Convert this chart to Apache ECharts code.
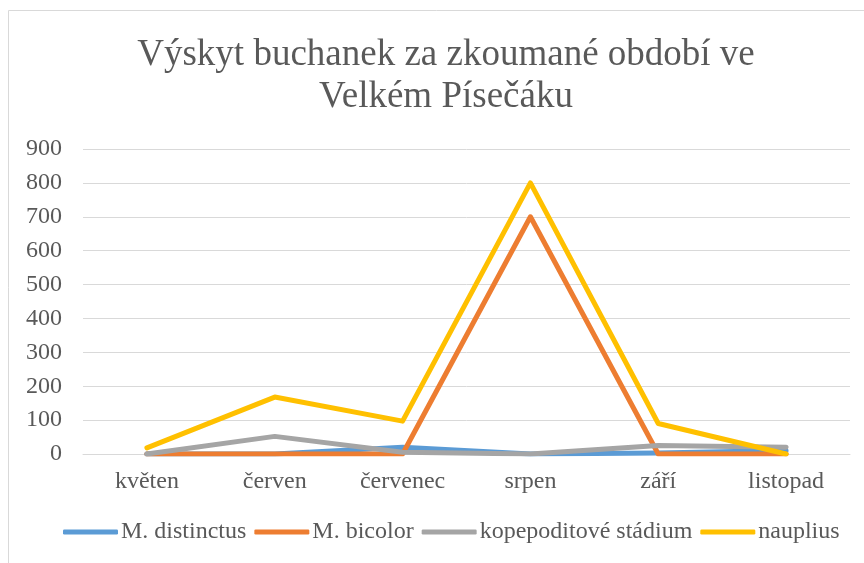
<!DOCTYPE html>
<html>
<head>
<meta charset="utf-8">
<script src="https://cdn.jsdelivr.net/npm/echarts@6/dist/echarts.min.js"></script>
<style>html,body{margin:0;padding:0;background:#fff}#c{width:864px;height:563px}</style>
</head>
<body>
<div id="c"></div>
<script>
var categories = ['květen', 'červen', 'červenec', 'srpen', 'září', 'listopad'];
var distinctus = [0, 0, 20, 0, 3, 10];
var bicolor = [0, 0, 0, 700, 0, 0];
var kopepodit = [0, 52, 5, 0, 25, 20];
var nauplius = [18, 168, 97, 800, 90, 0];
var yTicks = [0, 100, 200, 300, 400, 500, 600, 700, 800, 900];
var titleText = 'Výskyt buchanek za zkoumané období ve\nVelkém Písečáku';

var font = '"Liberation Serif", "Times New Roman", serif';
var chart = echarts.init(document.getElementById('c'));
function s(name, data, color) {
  return {name: name, type: 'line', data: data, symbol: 'none', smooth: false,
    lineStyle: {width: 5, color: color, cap: 'round', join: 'round'}, itemStyle: {color: color}};
}
chart.setOption({
  animation: false,
  graphic: [
    {type: 'rect', shape: {x: 8.5, y: 10.5, width: 900, height: 700},
      style: {fill: null, stroke: '#d9d9d9', lineWidth: 1}, silent: true},
    {type: 'text', x: 446, y: 34, silent: true,
      style: {text: titleText, font: '37px ' + font, fill: '#595959', align: 'center',
        verticalAlign: 'top', lineHeight: 42}}
  ],
  legend: {bottom: 14, left: 58, itemWidth: 55, itemHeight: 5, itemGap: 8,
    icon: 'roundRect',
    textStyle: {fontFamily: font, fontSize: 24, color: '#595959', padding: [0, 0, 0, -2]},
    data: ['M. distinctus', 'M. bicolor', 'kopepoditové stádium', 'nauplius']},
  grid: {left: 83, right: 14, top: 149, bottom: 109},
  xAxis: {type: 'category', data: categories, boundaryGap: true,
    axisLine: {lineStyle: {color: '#d9d9d9', width: 1}}, axisTick: {show: false},
    axisLabel: {fontFamily: font, fontSize: 24, color: '#595959', margin: 16}},
  yAxis: {type: 'value', min: 0, max: 900, interval: 100,
    axisLine: {show: false}, axisTick: {show: false},
    splitLine: {lineStyle: {color: '#d9d9d9', width: 1}},
    axisLabel: {fontFamily: font, fontSize: 24, color: '#595959', margin: 21,
      formatter: function (v) { return yTicks.indexOf(v) >= 0 ? String(v) : ''; }}},
  series: [
    s('M. distinctus', distinctus, '#5B9BD5'),
    s('M. bicolor', bicolor, '#ED7D31'),
    s('kopepoditové stádium', kopepodit, '#A5A5A5'),
    s('nauplius', nauplius, '#FFC000')
  ]
});
</script>
</body>
</html>
